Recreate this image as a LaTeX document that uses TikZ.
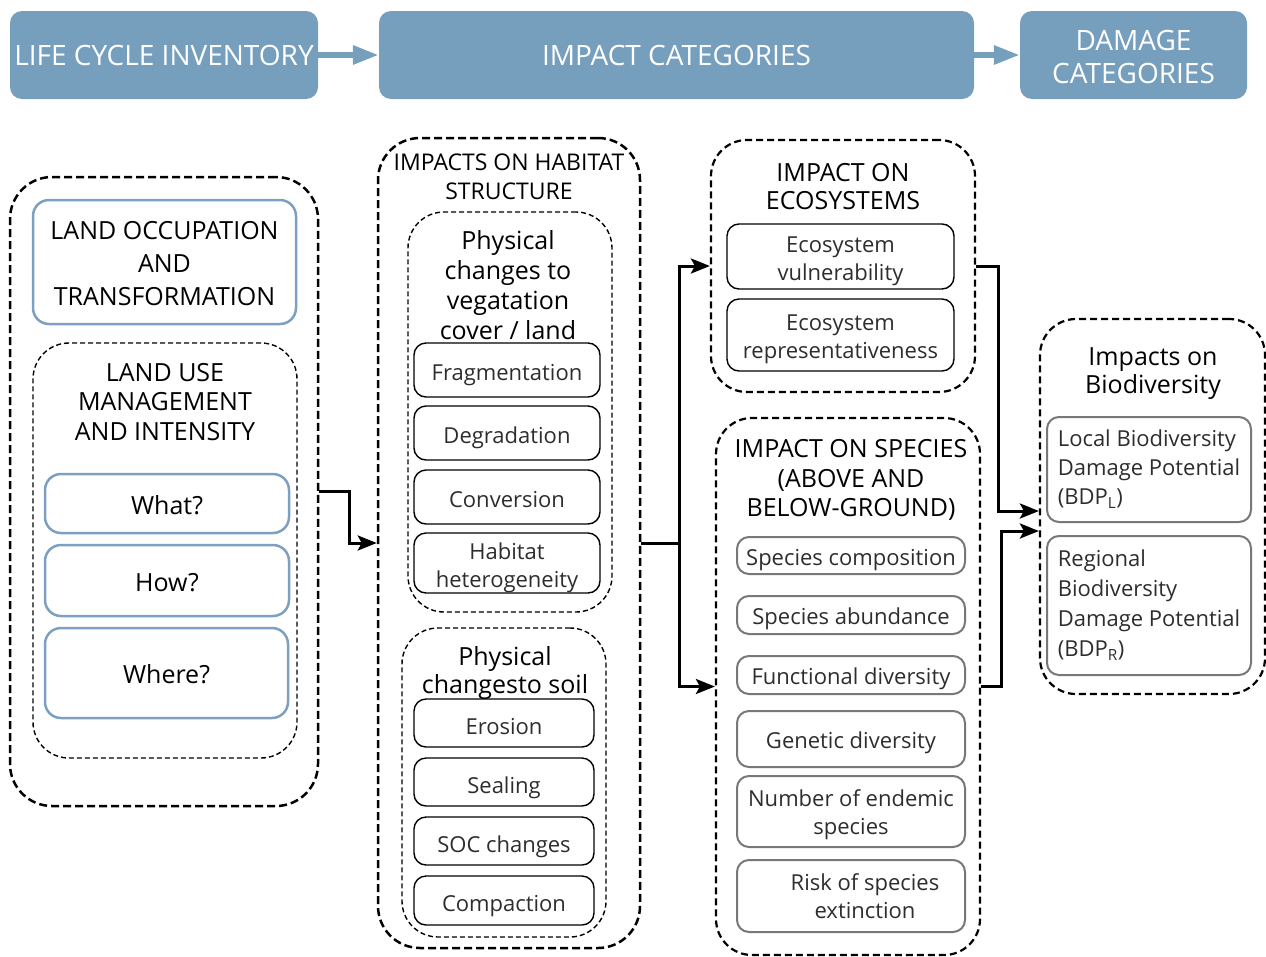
\documentclass[tikz,border=0pt]{standalone}
\usepackage{fontspec}
\setmainfont{Open Sans}
\usetikzlibrary{arrows.meta,calc}
\definecolor{bannerblue}{RGB}{118,158,189}
\definecolor{boxblue}{RGB}{125,160,192}
\definecolor{boxgray}{RGB}{120,120,120}
\definecolor{txtgray}{RGB}{45,45,45}
\newcommand\mybox[7]{\node[#1, minimum width={(#5)-(#3)}, minimum height={(#6)-(#4)}] (#2) at ({((#3)+(#5))/2},{((#4)+(#6))/2}) {#7};}
\newcommand\tx[3]{\raisebox{#2}[\height][\depth]{\begin{tabular}{@{}#1@{}}#3\end{tabular}}}
\begin{document}
\begin{tikzpicture}[x=1pt,y=-1pt,
  banner/.style={fill=bannerblue, rounded corners=12pt, text=white, font=\fontsize{28}{33}\selectfont, align=center, inner sep=0pt},
  bannerarrow/.style={draw=bannerblue, line width=6pt, -{Triangle[length=26pt,width=18pt]}},
  outerd/.style={draw, line width=2.5pt, dash pattern=on 8pt off 4pt, rounded corners=42pt, inner sep=0pt},
  midd/.style={draw, line width=2.2pt, dash pattern=on 7pt off 4pt, rounded corners=36pt, inner sep=0pt},
  innerd/.style={draw, line width=1.4pt, dash pattern=on 5pt off 3pt, rounded corners=36pt, inner sep=0pt},
  bluebox/.style={draw=boxblue, line width=2.5pt, rounded corners=16pt, font=\fontsize{25}{33}\selectfont, inner sep=0pt},
  blackbox/.style={draw, line width=1.4pt, rounded corners=12pt, text=txtgray, font=\fontsize{22}{28}\selectfont, inner sep=0pt},
  graybox/.style={draw=boxgray, line width=2pt, rounded corners=12pt, text=txtgray, font=\fontsize{22}{28}\selectfont, inner sep=0pt},
  title/.style={font=\fontsize{25}{29.5}\selectfont, align=center, inner sep=0pt},
  conn/.style={line width=3pt, -{Stealth[length=19pt,width=15pt,inset=4pt]}}
]
\useasboundingbox (0,0) rectangle (1266,956);
% banners
\mybox{banner}{lci}{10}{11}{318}{99}{LIFE CYCLE INVENTORY}
\mybox{banner}{ic}{379}{11}{974}{99}{IMPACT CATEGORIES}
\mybox{banner}{dc}{1020}{11}{1247}{99}{\tx{c}{-5pt}{DAMAGE\\CATEGORIES}}
\draw[bannerarrow] (lci.east) -- (ic.west);
\draw[bannerarrow] (ic.east) -- (dc.west);
% column 1
\mybox{outerd}{c1}{10}{177}{318}{806}{}
\mybox{bluebox}{loc}{33}{200}{296}{324}{\tx{c}{-3.5pt}{LAND OCCUPATION\\AND\\TRANSFORMATION}}
\mybox{innerd}{lu}{33}{343}{297}{758}{}
\node[title] (lut) at (165,402) {LAND USE\\MANAGEMENT\\AND INTENSITY};
\mybox{bluebox}{what}{45}{474}{289}{533}{\tx{c}{-4pt}{What?}}
\mybox{bluebox}{how}{45}{545}{289}{616}{\tx{c}{-4pt}{How?}}
\mybox{bluebox}{where}{45}{628}{288}{718}{\tx{c}{-4pt}{Where?}}
% column 2
\mybox{outerd}{c2}{378}{138}{640}{948}{}
\node[title, font=\fontsize{23}{29}\selectfont] (c2t) at (509,177) {IMPACTS ON HABITAT\\STRUCTURE};
\mybox{innerd}{veg}{408}{212}{612}{612}{}
\node[title, font=\fontsize{25}{30}\selectfont] (vegt) at (508,285) {Physical\\changes to\\vegatation\\cover / land};
\mybox{blackbox}{frag}{414}{343}{600}{397}{\tx{c}{-5pt}{Fragmentation}}
\mybox{blackbox}{degr}{414}{406}{600}{460}{\tx{c}{-5pt}{Degradation}}
\mybox{blackbox}{conv}{414}{470}{600}{524}{\tx{c}{-5pt}{Conversion}}
\mybox{blackbox}{habh}{414}{533}{600}{593}{\tx{c}{-5pt}{Habitat\\heterogeneity}}
\mybox{innerd}{soil}{402}{628}{606}{937}{}
\node[title, font=\fontsize{25}{28}\selectfont] (soilt) at (505,673) {Physical\\changesto soil};
\mybox{blackbox}{eros}{414}{699}{594}{747}{\tx{c}{-5.5pt}{Erosion}}
\mybox{blackbox}{seal}{414}{758}{594}{806}{\tx{c}{-5.5pt}{Sealing}}
\mybox{blackbox}{soc}{414}{817}{594}{865}{\tx{c}{-5.5pt}{SOC changes}}
\mybox{blackbox}{comp}{414}{876}{594}{925}{\tx{c}{-5pt}{Compaction}}
% column 3
\mybox{midd}{eco}{711}{140}{975}{392}{}
\node[title, font=\fontsize{25}{28}\selectfont] (ecot) at (843,187) {IMPACT ON\\ECOSYSTEMS};
\mybox{blackbox}{ecov}{727}{224}{954}{289}{\tx{c}{-4pt}{Ecosystem\\vulnerability}}
\mybox{blackbox}{ecor}{727}{299}{954}{371}{\tx{c}{-4pt}{Ecosystem\\representativeness}}
\mybox{midd}{sp}{716}{418}{980}{955}{}
\node[title] (spt) at (851,480) {IMPACT ON SPECIES\\(ABOVE AND\\BELOW-GROUND)};
\mybox{graybox}{spc}{737}{537}{965}{574}{\tx{c}{-4pt}{Species composition}}
\mybox{graybox}{spa}{737}{596}{965}{634}{\tx{c}{-4pt}{Species abundance}}
\mybox{graybox}{fund}{737}{656}{965}{694}{\tx{c}{-4pt}{Functional diversity}}
\mybox{graybox}{gend}{737}{711}{965}{767}{\tx{c}{-4pt}{Genetic diversity}}
\mybox{graybox}{ende}{737}{776}{965}{847}{\tx{c}{-3.5pt}{Number of endemic\\species}}
\mybox{graybox}{risk}{737}{860}{965}{932}{\tx{c}{-3pt}{\hspace*{28pt}Risk of species\\\hspace*{28pt}extinction}}
% column 4
\mybox{midd}{bio}{1040}{319}{1265}{694}{}
\node[title, font=\fontsize{25}{28}\selectfont] (biot) at (1153,374) {Impacts on\\Biodiversity};
\mybox{graybox, font=\fontsize{22}{29}\selectfont}{lbdp}{1047}{417}{1251}{522}{\tx{l}{0pt}{Local Biodiversity\\Damage Potential\\(BDP\textsubscript{L})}}
\mybox{graybox, font=\fontsize{22}{30}\selectfont}{rbdp}{1047}{536}{1251}{675}{\tx{l}{0pt}{Regional\\Biodiversity\\Damage Potential\\(BDP\textsubscript{R})}}
% connectors
\draw[conn] (c1.east) -- ++(30,0) |- (c2.west);
\draw[line width=3pt] (c2.east) -- ++(38,0) coordinate (j1);
\draw[conn] (j1) |- (eco.west);
\draw[conn] (j1) |- (sp.west);
\draw[conn] (eco.east) -- ++(22,0) |- ($(bio.west)+(0,4.5)$);
\draw[conn] (sp.east) -- ++(20,0) |- ($(bio.west)+(0,24.5)$);
\end{tikzpicture}
\end{document}
